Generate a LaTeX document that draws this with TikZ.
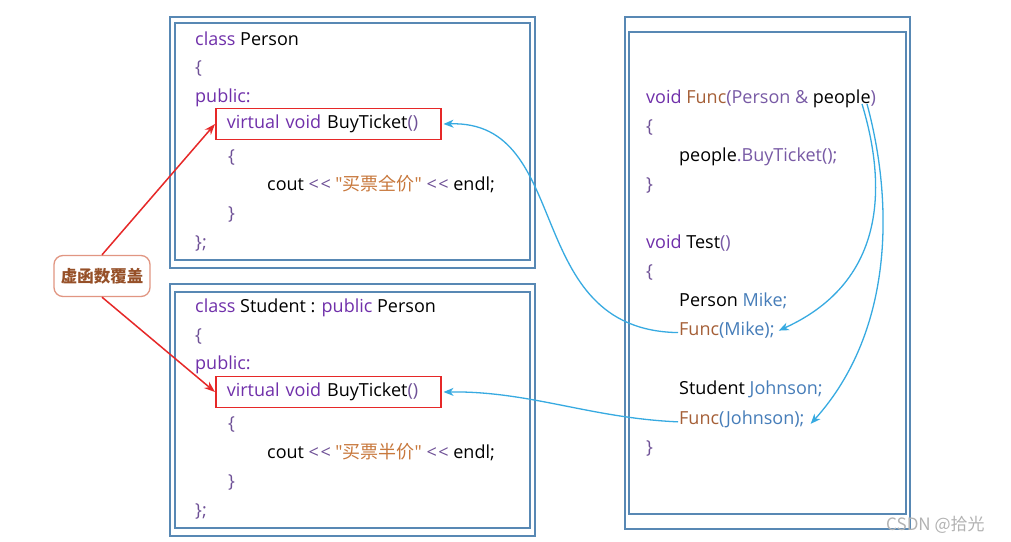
\documentclass[tikz,border=0pt]{standalone}
\usepackage{fontspec}
\setmainfont{Open Sans}
\newfontfamily\cjk{Noto Sans CJK SC}
\newfontfamily\plainlat{Open Sans}
\usetikzlibrary{arrows.meta}
\definecolor{boxc}{RGB}{88,136,180}
\definecolor{kwc}{RGB}{112,48,170}
\definecolor{brc}{RGB}{110,80,150}
\definecolor{strc}{RGB}{200,120,60}
\definecolor{fnc}{RGB}{165,95,55}
\definecolor{varc}{RGB}{70,125,185}
\definecolor{tyc}{RGB}{120,90,165}
\definecolor{redc}{RGB}{230,40,40}
\definecolor{bluec}{RGB}{55,170,225}
\definecolor{labc}{RGB}{150,80,40}
\definecolor{labb}{RGB}{225,150,130}
\newcommand\ckw[1]{\textcolor{kwc}{#1}}
\newcommand\cbr[1]{\textcolor{brc}{#1}}
\newcommand\cstr[1]{\textcolor{strc}{#1}}
\newcommand\cfn[1]{\textcolor{fnc}{#1}}
\newcommand\cvar[1]{\textcolor{varc}{#1}}
\newcommand\cty[1]{\textcolor{tyc}{#1}}
\newcommand\shl{\cbr{<\hspace{1.5pt}<}}
\newcommand\dq{{\plainlat\char"22\relax}}
\begin{document}
\begin{tikzpicture}[x=1pt,y=-1pt,
  code/.style={anchor=base west,inner sep=0pt,font=\fontsize{18}{20}\selectfont,text=black},
  frame/.style={draw=boxc,line width=1.6pt},
  redbox/.style={draw=redc,line width=1.5pt,anchor=west,inner xsep=11pt,inner ysep=0pt,
     minimum height=31pt,text width=203pt,align=left,font=\fontsize{18}{20}\selectfont},
  bluearrow/.style={draw=bluec,line width=1.3pt,-{Stealth[length=10pt,width=8pt,inset=3pt]}},
  redarrow/.style={draw=redc,line width=1.5pt,-{Stealth[length=11pt,width=8pt]}},
  labbox/.style={draw=labb,line width=1.3pt,rounded corners=9pt,fill=white,
     minimum width=96pt,minimum height=41pt,text=labc,font=\cjk\bfseries\fontsize{16.5}{18}\selectfont}
]
\useasboundingbox (0,0) rectangle (1011,541);
\fill[white] (0,0) rectangle (1011,541);
% frames
\draw[frame] (170,17) rectangle (535,268);
\draw[frame] (175,23) rectangle (530,260);
\draw[frame] (170,284) rectangle (535,536);
\draw[frame] (175,292) rectangle (530,528);
\draw[frame] (625,17) rectangle (910,529);
\draw[frame] (629,32) rectangle (906,514);
% Person class
\node[code] (a1) at (195,45) {\ckw{class} Person};
\node[code] (a2) at (195,73) {\cbr{\{}};
\node[code] (a3) at (195,102) {\ckw{public:}};
\node[redbox] (vb1) at (215,124) {\ckw{virtual void} BuyTicket\cbr{()}};
\node[code] (a5) at (228,162) {\cbr{\{}};
\node[code] (a6) at (267,190) {cout \shl{} \cstr{\dq{\cjk 买票全价}\dq} \shl{} endl;};
\node[code] (a7) at (228,219) {\cbr{\}}};
\node[code] (a8) at (195,248) {\cbr{\};}};
% Student class
\node[code] (b1) at (195,312) {\ckw{class} Student : \ckw{public} Person};
\node[code] (b2) at (195,341) {\cbr{\{}};
\node[code] (b3) at (195,369) {\ckw{public:}};
\node[redbox] (vb2) at (215,392) {\ckw{virtual void} BuyTicket\cbr{()}};
\node[code] (b5) at (228,429) {\cbr{\{}};
\node[code] (b6) at (267,458) {cout \shl{} \cstr{\dq{\cjk 买票半价}\dq} \shl{} endl;};
\node[code] (b7) at (228,487) {\cbr{\}}};
\node[code] (b8) at (195,516) {\cbr{\};}};
% right code
\node[code] (c1) at (646,103) {\ckw{void} \cfn{Func}\cty{(Person \&} people\cty{)}};
\node[code] (c2) at (646,132) {\cbr{\{}};
\node[code] (c3) at (679,161) {people\cty{.BuyTicket();}};
\node[code] (c4) at (646,190) {\cbr{\}}};
\node[code] (c5) at (646,248) {\ckw{void} Test\cty{()}};
\node[code] (c6) at (646,277) {\cbr{\{}};
\node[code] (c7) at (679,306) {Person \cvar{Mike;}};
\node[code] (fm) at (679,335) {\cfn{Func}\cvar{(Mike);}};
\node[code] (c9) at (679,394) {Student \cvar{Johnson;}};
\node[code] (fj) at (679,424) {\cfn{Func}\cvar{(Johnson);}};
\node[code] (c11) at (646,453) {\cbr{\}}};
\coordinate (pp1) at (862,104);
\coordinate (pp2) at (867,104);
% label
\node[labbox] (lab) at (102,276) {虚函数覆盖};
% red arrows
\draw[redarrow] (lab.north) -- (vb1.west);
\draw[redarrow] (lab.south) -- (vb2.west);
% blue arrows
\draw[bluearrow] ([xshift=-1pt,yshift=-3pt]fm.west) .. controls (520,330) and (575,120) .. ([xshift=2pt]vb1.east);
\draw[bluearrow] ([xshift=-1pt,yshift=-3pt]fj.west) .. controls (590,418) and (530,391) .. ([xshift=2pt]vb2.east);
\draw[bluearrow] (pp1) .. controls (885,180) and (890,280) .. ([xshift=4pt,yshift=-1pt]fm.east);
\draw[bluearrow] (pp2) .. controls (893,200) and (895,330) .. ([xshift=6pt,yshift=-5pt]fj.east);
% watermark
\node[anchor=base west,inner sep=0pt,text=black!30,font=\cjk\fontsize{17}{19}\selectfont] (wm) at (886,530) {CSDN @拾光};
\end{tikzpicture}
\end{document}
